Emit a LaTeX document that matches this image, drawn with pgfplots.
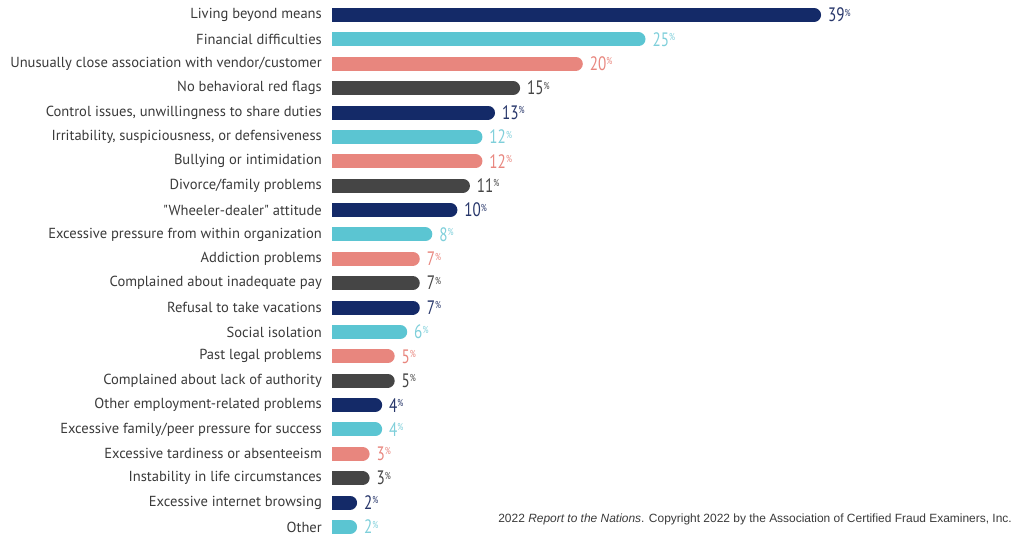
\documentclass[border=0pt]{standalone}
\usepackage{pgfplots}
\pgfplotsset{compat=1.18}
\usepackage{fontspec}
\setmainfont{PT Sans}
\newfontfamily\qfont[Ligatures=TeXOff]{PT Sans}
\newfontfamily\numfont[FakeStretch=0.78]{PT Sans}
\newfontfamily\capfont{Liberation Sans}
\definecolor{cnavy}{HTML}{142A68}
\definecolor{ccyan}{HTML}{5BC5D2}
\definecolor{csalmon}{HTML}{E8867E}
\definecolor{cgray}{HTML}{454545}
\definecolor{lnavy}{HTML}{27366A}
\definecolor{lcyan}{HTML}{7FCFDA}
\definecolor{ltext}{HTML}{3A3A3A}
\newcommand{\vlab}{\pgfmathprintnumber{\pgfplotspointmeta}\raisebox{5.6bp}{\fontsize{10}{10}\selectfont\%}}
\pgfplotsset{
  rbar/.style 2 args={xcomb, draw=#1, line width=14bp, line cap=round, mark=none,
    nodes near coords={\vlab}, nodes near coords style={text=#2}},
  nb/.style={rbar={cnavy}{lnavy}},
  cb/.style={rbar={ccyan}{lcyan}},
  sb/.style={rbar={csalmon}{csalmon}},
  gb/.style={rbar={cgray}{cgray}},
}
\begin{document}
\begin{tikzpicture}[x=1bp,y=1bp]
\useasboundingbox (0,0) rectangle (1017,538);
\begin{axis}[
  at={(332bp,535.2bp)}, anchor=north west,
  scale only axis, width=685bp, height=536.4bp,
  xmin=0.5582, xmax=55.184, ymin=-0.5, ymax=21.5, y dir=reverse,
  hide x axis, clip=true, point meta=x,
  /pgf/number format/assume math mode=true,
  y axis line style={draw=none}, major tick length=0pt,
  ytick={0,...,21},
  yticklabels={Living beyond means, Financial difficulties, Unusually close association with vendor/customer, No behavioral red flags, {Control issues, unwillingness to share duties}, {Irritability, suspiciousness, or defensiveness}, Bullying or intimidation, Divorce/family problems, {\qfont"Wheeler-dealer" attitude}, Excessive pressure from within organization, Addiction problems, Complained about inadequate pay, Refusal to take vacations, Social isolation, Past legal problems, Complained about lack of authority, Other employment-related problems, Excessive family/peer pressure for success, Excessive tardiness or absenteeism, Instability in life circumstances, Excessive internet browsing, Other},
  yticklabel style={font=\fontsize{14.6}{16}\selectfont, text=ltext, inner sep=0pt, xshift=-10bp},
  nodes near coords style={anchor=west, inner sep=0pt, xshift=7bp, font=\numfont\fontsize{19.5}{19.5}\selectfont},
]
\addplot[nb] coordinates {(39,0)};
\addplot[cb] coordinates {(25,1)};
\addplot[sb] coordinates {(20,2)};
\addplot[gb] coordinates {(15,3)};
\addplot[nb] coordinates {(13,4)};
\addplot[cb] coordinates {(12,5)};
\addplot[sb] coordinates {(12,6)};
\addplot[gb] coordinates {(11,7)};
\addplot[nb] coordinates {(10,8)};
\addplot[cb] coordinates {(8,9)};
\addplot[sb] coordinates {(7,10)};
\addplot[gb] coordinates {(7,11)};
\addplot[nb] coordinates {(7,12)};
\addplot[cb] coordinates {(6,13)};
\addplot[sb] coordinates {(5,14)};
\addplot[gb] coordinates {(5,15)};
\addplot[nb] coordinates {(4,16)};
\addplot[cb] coordinates {(4,17)};
\addplot[sb] coordinates {(3,18)};
\addplot[gb] coordinates {(3,19)};
\addplot[nb] coordinates {(2,20)};
\addplot[cb] coordinates {(2,21)};
\end{axis}
\node[anchor=east, inner sep=0pt, text=ltext, font=\capfont\fontsize{12}{14}\selectfont] at (1012,19) {2022 \textit{Report to the Nations}. Copyright 2022 by the Association of Certified Fraud Examiners, Inc.};
\end{tikzpicture}
\end{document}
